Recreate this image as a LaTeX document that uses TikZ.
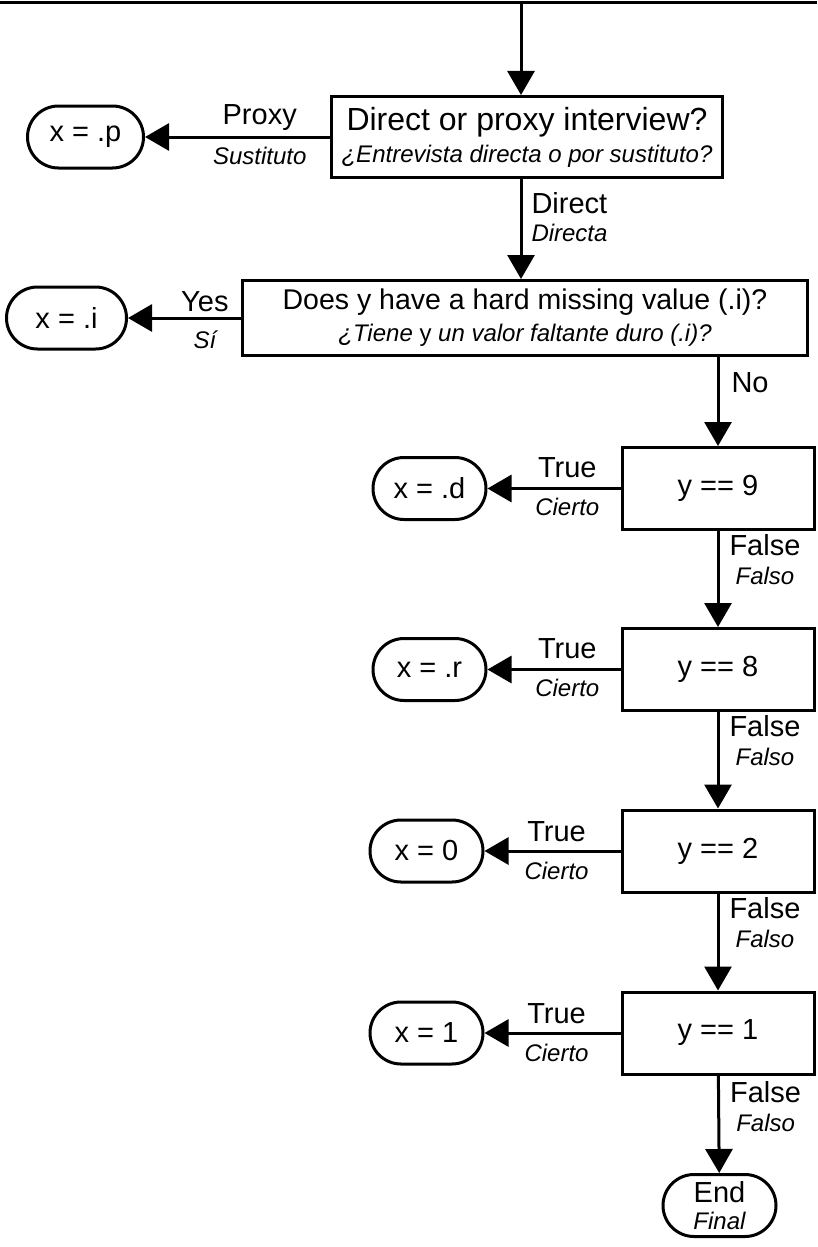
\documentclass[tikz,border=0pt]{standalone}
\usepackage{fontspec}
\setmainfont{Liberation Sans}
\usetikzlibrary{arrows.meta}

\newcommand{\en}[1]{{\fontsize{29}{32}\selectfont #1}}
\newcommand{\es}[1]{{\itshape #1}}

\begin{document}
\begin{tikzpicture}[x=1pt,y=-1pt,line width=3pt,
    >={Triangle[length=24pt,width=27pt]},
    box/.style={draw,rectangle,align=center,inner sep=0pt,minimum width=192pt,minimum height=82pt,font=\fontsize{24}{32}\selectfont},
    pill/.style={draw,rectangle,rounded corners=31pt,align=center,inner sep=0pt,minimum width=113pt,minimum height=62pt,font=\fontsize{24}{27}\selectfont},
    lbl/.style={inner sep=0pt,align=center,font=\fontsize{24}{29}\selectfont}]
          \useasboundingbox (0,0) rectangle (817,1247);
          \draw (0,3) -- (817,3);
          \coordinate (in) at (521,3);

          \node[box,minimum width=391pt,minimum height=81pt] (q1) at (527,137) {{\fontsize{32}{32}\selectfont Direct or proxy interview?}\\\es{¿Entrevista directa o por sustituto?}};
          \node[box,minimum width=565pt,minimum height=75pt] (q2) at (525,318) {{\fontsize{28.5}{32}\selectfont Does y have a hard missing value (.i)?}\\\es{¿Tiene \upshape y \itshape un valor faltante duro (.i)?}};
          \node[box] (d9) at (718,488.5) {\en{y == 9}};
          \node[box] (d8) at (718,669.5) {\en{y == 8}};
          \node[box] (d2) at (718,851) {\en{y == 2}};
          \node[box] (d1) at (718,1033) {\en{y == 1}};

          \node[pill,minimum width=116pt] (xp) at (85.5,137) {\en{x = .p}};
          \node[pill,minimum width=120pt] (xi) at (66.5,318) {\en{x = .i}};
          \node[pill] (xd) at (429.5,488.5) {\en{x = .d}};
          \node[pill] (xr) at (429.5,669.5) {\en{x = .r}};
          \node[pill] (x0) at (426.5,851) {\en{x = 0}};
          \node[pill] (x1) at (426.5,1033) {\en{x = 1}};
          \node[pill] (end) at (719.5,1205.5) {\en{End}\\\es{Final}};

          \draw[->] (in) -- (in |- q1.north);
          \draw[->] (in |- q1.south) -- (in |- q2.north)
            node[lbl,align=left,pos=0.38,anchor=west,xshift=9pt,font=\fontsize{24}{28}\selectfont] {\en{Direct}\\\es{Directa}};
          \draw[->] (d9.north |- q2.south) -- (d9.north) node[lbl,pos=0.29,anchor=west,xshift=12pt] {\en{No}};
          \draw[->] (d9) -- (d8) node[lbl,pos=0.3,anchor=west,xshift=10pt] {\en{False}\\\es{Falso}};
          \draw[->] (d8) -- (d2) node[lbl,pos=0.3,anchor=west,xshift=10pt] {\en{False}\\\es{Falso}};
          \draw[->] (d2) -- (d1) node[lbl,pos=0.3,anchor=west,xshift=10pt] {\en{False}\\\es{Falso}};
          \draw[->] (d1) -- (end) node[lbl,pos=0.32,anchor=west,xshift=10pt] {\en{False}\\\es{Falso}};

          \draw[->] (q1.west) -- (xp.east)
            node[lbl,pos=0.38,yshift=19pt] {\en{Proxy}} node[lbl,pos=0.38,yshift=-19pt] {\es{Sustituto}};
          \draw[->] (q2.west) -- (xi.east)
            node[lbl,pos=0.32,yshift=16pt] {\en{Yes}} node[lbl,pos=0.32,yshift=-22pt] {\es{Sí}};
          \draw[->] (d9) -- (xd)
            node[lbl,pos=0.4,yshift=21pt] {\en{True}} node[lbl,pos=0.4,yshift=-18pt] {\es{Cierto}};
          \draw[->] (d8) -- (xr)
            node[lbl,pos=0.4,yshift=21pt] {\en{True}} node[lbl,pos=0.4,yshift=-18pt] {\es{Cierto}};
          \draw[->] (d2) -- (x0)
            node[lbl,pos=0.47,yshift=19pt] {\en{True}} node[lbl,pos=0.47,yshift=-20pt] {\es{Cierto}};
          \draw[->] (d1) -- (x1)
            node[lbl,pos=0.47,yshift=19pt] {\en{True}} node[lbl,pos=0.47,yshift=-20pt] {\es{Cierto}};
        \end{tikzpicture}
\end{document}
